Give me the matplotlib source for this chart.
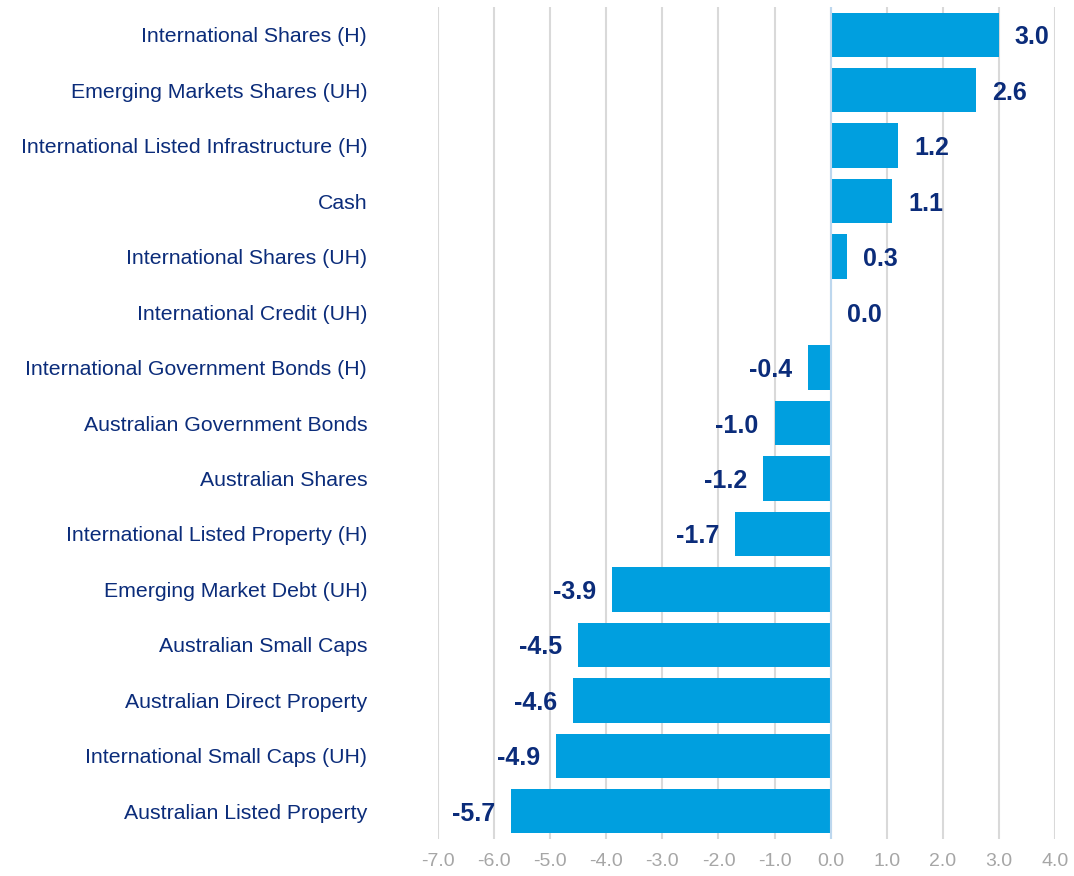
import matplotlib.pyplot as plt

plt.rcParams['font.family'] = ['Liberation Sans', 'DejaVu Sans']

categories = [
    "International Shares (H)",
    "Emerging Markets Shares (UH)",
    "International Listed Infrastructure (H)",
    "Cash",
    "International Shares (UH)",
    "International Credit (UH)",
    "International Government Bonds (H)",
    "Australian Government Bonds",
    "Australian Shares",
    "International Listed Property (H)",
    "Emerging Market Debt (UH)",
    "Australian Small Caps",
    "Australian Direct Property",
    "International Small Caps (UH)",
    "Australian Listed Property",
]
values = [3.0, 2.6, 1.2, 1.1, 0.3, 0.0, -0.4, -1.0, -1.2, -1.7, -3.9, -4.5, -4.6, -4.9, -5.7]
xticks = [-7, -6, -5, -4, -3, -2, -1, 0, 1, 2, 3, 4]

bar_color = '#009FDF'
navy = '#0B2C7A'

fig = plt.figure(figsize=(10.74, 8.76), dpi=100)
ax = fig.add_axes([438 / 1074, 37 / 876, (1055 - 438) / 1074, (869 - 37) / 876])

ypos = list(range(len(categories)))
ax.barh(ypos, values, height=0.8, color=bar_color, zorder=3)

for y, v in zip(ypos, values):
    if v >= 0:
        ax.annotate(f"{v:.1f}", (v, y), xytext=(11.5, 0), textcoords='offset points',
                    ha='left', va='center_baseline', fontsize=18, fontweight='bold', color=navy)
    else:
        ax.annotate(f"{v:.1f}", (v, y), xytext=(-11.5, 0), textcoords='offset points',
                    ha='right', va='center_baseline', fontsize=18, fontweight='bold', color=navy)

ax.set_xlim(-7, 4)
ax.set_ylim(len(categories) - 0.5, -0.5)
ax.set_xticks(xticks)
ax.set_xticklabels([f"{t:.1f}" for t in xticks])
ax.set_yticks(ypos)
ax.set_yticklabels(categories)

ax.grid(axis='x', color='#D9D9D9', linewidth=1.5, zorder=0)
ax.axvline(0, color='#BDD7EE', linewidth=1.5, zorder=4)
for s in ax.spines.values():
    s.set_visible(False)

ax.tick_params(axis='y', length=0, pad=51, labelsize=15.3, labelcolor=navy)
ax.tick_params(axis='x', length=0, pad=10, labelsize=14, labelcolor='#A6A6A6')

fig.savefig('out.png', dpi=100)
